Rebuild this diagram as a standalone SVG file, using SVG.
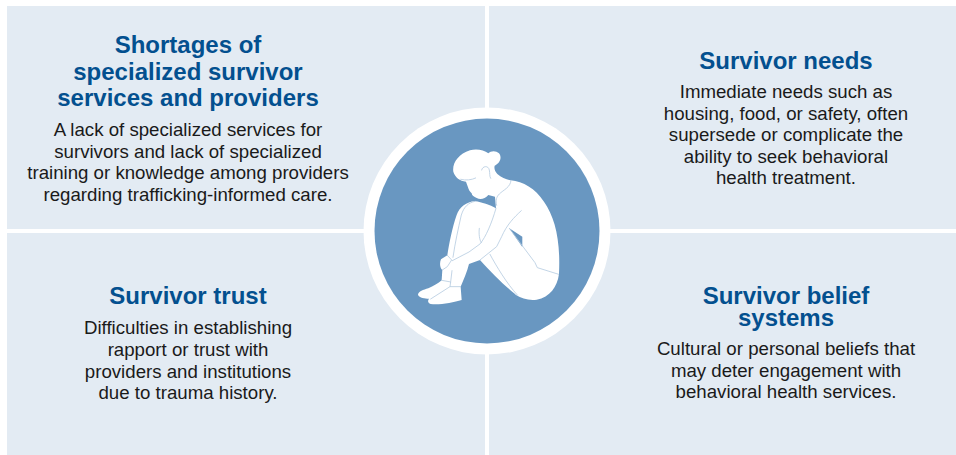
<svg xmlns="http://www.w3.org/2000/svg" width="956" height="455" viewBox="0 0 956 455">
<style>
.p{fill:#e3ebf3}
.h{font:bold 24px "Liberation Sans",Arial,sans-serif;fill:#03508f;text-anchor:middle}
.b{font:18.67px "Liberation Sans",Arial,sans-serif;fill:#1a1a1a;text-anchor:middle}
.l{fill:none;stroke:#b4cae0;stroke-width:2.4;stroke-linecap:round;stroke-linejoin:round}
</style>
<rect width="956" height="455" fill="#fff"/>
<g id="panel-shortages"><rect class="p" x="7" y="6" width="478" height="223"/>
<text class="h" x="188" y="53">Shortages of</text><text class="h" x="188" y="80">specialized survivor</text><text class="h" x="188" y="106">services and providers</text>
<text class="b" x="188" y="135.5">A lack of specialized services for</text><text class="b" x="188" y="157.5">survivors and lack of specialized</text><text class="b" x="188" y="179">training or knowledge among providers</text><text class="b" x="188" y="200.5">regarding trafficking-informed care.</text></g>
<g id="panel-needs"><rect class="p" x="489" y="6" width="467" height="223"/>
<text class="h" x="786" y="69">Survivor needs</text>
<text class="b" x="786" y="97.5">Immediate needs such as</text><text class="b" x="786" y="119.5">housing, food, or safety, often</text><text class="b" x="786" y="141">supersede or complicate the</text><text class="b" x="786" y="162.5">ability to seek behavioral</text><text class="b" x="786" y="184">health treatment.</text></g>
<g id="panel-trust"><rect class="p" x="7" y="233" width="478" height="222"/>
<text class="h" x="188" y="304">Survivor trust</text>
<text class="b" x="188" y="334">Difficulties in establishing</text><text class="b" x="188" y="356">rapport or trust with</text><text class="b" x="188" y="378">providers and institutions</text><text class="b" x="188" y="399">due to trauma history.</text></g>
<g id="panel-beliefs"><rect class="p" x="489" y="233" width="467" height="222"/>
<text class="h" x="786" y="304">Survivor belief</text><text class="h" x="786" y="326">systems</text>
<text class="b" x="786" y="355">Cultural or personal beliefs that</text><text class="b" x="786" y="377">may deter engagement with</text><text class="b" x="786" y="398">behavioral health services.</text></g>
<g id="center">
<circle cx="487" cy="231" r="123.5" fill="#fff"/>
<circle cx="487" cy="231" r="112.5" fill="#6997c1"/>
<g transform="translate(360 100) scale(.3333)">
<path fill="#fff" d="M280 215C276 190 295 162 330 151C350 146 372 150 385 160C392 152 408 151 417 160C427 172 420 190 404 197C402 205 404 214 412 222C424 232 438 238 452 241C490 245 525 265 552 305C585 352 602 420 597 522C592 560 570 592 530 599C505 602 485 595 468 585C440 562 395 520 360 480L327 492C322 515 310 540 302 560L305 600C280 608 235 616 212 612C204 610 202 602 207 596C195 596 178 594 174 584C175 574 190 570 205 565C220 558 235 550 245 541L247 510C240 505 238 490 243 478L262 466C268 430 276 385 290 345C298 322 320 305 345 304C365 306 390 315 408 325L405 290L385 285C375 296 362 300 350 294C342 290 336 288 335 280C330 276 326 270 324 262L318 245C300 243 285 232 280 215Z"/>
<path fill="#6997c1" d="M448 385L487 410V441Z"/>
<path class="l" d="M302 238C318 242 335 240 347 234M365 210C367 198 385 195 388 210C390 220 388 228 392 235"/>
<path class="l" d="M453 241C452 262 430 270 418 282C410 290 406 300 410 316"/>
<path class="l" d="M408 325C395 370 378 410 360 432L327 456L277 482M345 304C325 308 312 320 304 345C295 385 285 430 279 472"/>
<path class="l" d="M262 466L275 480L262 500L247 510M358 385C356 400 358 420 364 428M484 332C462 352 440 375 425 410L410 440L360 480"/>
<path class="l" d="M390 463C410 500 440 550 472 585M448 385L525 488L532 503L596 523"/>
<path class="l" d="M245 541L272 546L270 560L302 560M272 546L276 512M270 560L212 597"/>
</g>
</g>
</svg>
